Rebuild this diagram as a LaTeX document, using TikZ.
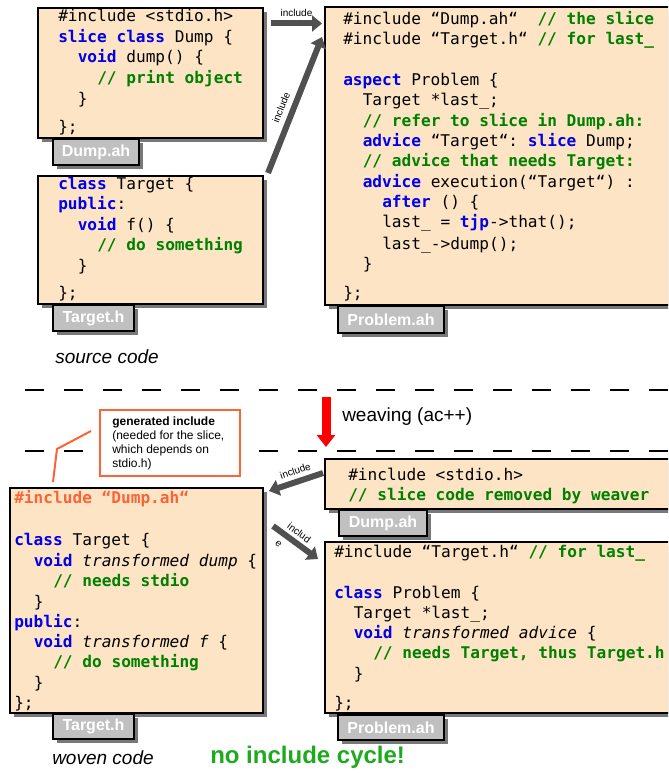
\documentclass[tikz,border=0pt]{standalone}
\usepackage{fontspec}
\setmainfont{Liberation Sans}
\setmonofont{DejaVu Sans Mono}
\usetikzlibrary{arrows.meta, fit, shadows}
\definecolor{boxfill}{RGB}{253,228,196}
\definecolor{tabgray}{RGB}{192,192,192}
\definecolor{shadowgray}{RGB}{120,120,120}
\definecolor{arrowgray}{RGB}{80,80,80}
\definecolor{kwblue}{RGB}{0,0,235}
\definecolor{cmtgreen}{RGB}{0,128,0}
\definecolor{genorange}{RGB}{250,100,55}
\definecolor{okgreen}{RGB}{30,170,30}
\newcommand{\kwd}[1]{\textcolor{kwblue}{\bfseries #1}}
\newcommand{\cmt}[1]{\textcolor{cmtgreen}{\bfseries #1}}
\newcommand{\gen}[1]{\textcolor{genorange}{\bfseries #1}}
\tikzset{
  filebox/.style={draw=black, line width=1.5pt, fill=boxfill, inner sep=0pt,
    drop shadow={shadow xshift=3pt, shadow yshift=-3pt, fill=shadowgray, opacity=1}},
  filetab/.style={draw=black, line width=1.5pt, fill=tabgray, inner sep=0pt, text=white,
    anchor=north west, font=\bfseries\fontsize{12}{14}\selectfont,
    drop shadow={shadow xshift=3pt, shadow yshift=-3pt, fill=shadowgray, opacity=1}},
  code/.style={anchor=base west, inner sep=0pt, font=\ttfamily\fontsize{12.1}{14}\selectfont},
  incl/.style={draw=arrowgray, line width=4.5pt, -{Triangle[length=7.5pt,width=12pt]}},
  incllabel/.style={font=\fontsize{7.5}{10}\selectfont, text=black, inner sep=1pt},
  caption/.style={anchor=west, inner sep=0pt, font=\itshape\fontsize{14.25}{16}\selectfont},
  separator/.style={line width=1pt, dash pattern=on 14.25pt off 15pt},
  weave/.style={draw=red, line width=6.75pt, -{Triangle[length=9pt,width=13.5pt]}},
}
\begin{document}
\begin{tikzpicture}[x=0.75pt, y=-0.75pt]
\useasboundingbox (0,0) rectangle (668,773);
\clip (0,0) rectangle (668,773);

% source code
\node[filebox, fit={(38,8) (263,138)}] (srcdump) {};
\node[filetab, minimum width=64.5pt, minimum height=19.5pt] (srcdumptab) at (52,138) {Dump.ah};
\foreach \ind/\yy/\txt [count=\k] in {
  0/22/{\#include <stdio.h>},
  0/43/{\kwd{slice class} Dump \{},
  2/63/{\kwd{void} dump() \{},
  4/84/{\cmt{// print object}},
  2/105/{\}},
  0/133/{\};}}
  \node[code] (srcdump\k) at ({58+\ind*9.75},\yy) {\txt};

\node[filebox, fit={(38,176) (263,304)}] (srctarget) {};
\node[filetab, minimum width=60.75pt, minimum height=19.5pt] (srctargettab) at (52,304) {Target.h};
\foreach \ind/\yy/\txt [count=\k] in {
  0/190/{\kwd{class} Target \{},
  0/210/{\kwd{public}:},
  2/231/{\kwd{void} f() \{},
  4/251/{\cmt{// do something}},
  2/272/{\}},
  0/298/{\};}}
  \node[code] (srctarget\k) at ({58+\ind*9.75},\yy) {\txt};

\node[filebox, fit={(325,7) (690,305)}] (srcproblem) {};
\node[filetab, minimum width=79.5pt, minimum height=20.25pt] (srcproblemtab) at (337,305) {Problem.ah};
\foreach \ind/\yy/\txt [count=\k] in {
  0/25/{\#include “Dump.ah“~ \cmt{// the slice}},
  0/45/{\#include “Target.h“ \cmt{// for last\_}},
  0/86/{\kwd{aspect} Problem \{},
  2/106/{Target *last\_;},
  2/127/{\cmt{// refer to slice in Dump.ah:}},
  2/147/{\kwd{advice} “Target“: \kwd{slice} Dump;},
  2/167/{\cmt{// advice that needs Target:}},
  2/188/{\kwd{advice} execution(“Target“) :},
  4/208/{\kwd{after} () \{},
  4/228/{last\_ = \kwd{tjp}->that();},
  4/249/{last\_->dump();},
  2/270/{\}},
  0/298/{\};}}
  \node[code] (srcproblem\k) at ({343+\ind*9.75},\yy) {\txt};

\draw[incl] ([shift={(7,16.5)}]srcdump.north east) -- ([shift={(-2,17.5)}]srcproblem.north west)
  node[incllabel, midway, above=2pt] (inclA) {include};
\draw[incl] ([shift={(4,-2)}]srctarget.north east) -- ([shift={(-2,31)}]srcproblem.north west)
  node[incllabel, pos=0.45, sloped, above=3pt] (inclB) {include};

\node[caption] (srccaption) at (55,357) {source code};

% weaving
\draw[separator] (25,390) -- (668,390);
\draw[separator] (25,451) -- (668,451);
\coordinate (weavetop) at (326,397);
\coordinate (weavetip) at (326,447);
\draw[weave] (weavetop) -- (weavetip);
\node[anchor=west, inner sep=0pt, font=\fontsize{14.25}{16}\selectfont] (weavelabel) at (342,417) {weaving (ac++)};

\node[draw=genorange, line width=1.5pt, fill=white, inner sep=0pt, fit={(100,410) (240,476)}] (genbox) {};
\node[anchor=north west, inner sep=0pt, align=left, font=\fontsize{9}{10.3}\selectfont] (gentext) at (112,417)
  {\textbf{generated include}\\(needed for the slice,\\which depends on\\stdio.h)};
\coordinate (genend) at (91,431);
\coordinate (genbend) at (57,449);
\coordinate (gentip) at (53,482);
\draw[genorange, line width=1.5pt] (genend) -- (genbend) -- (gentip);

% woven code
\node[filebox, fit={(10,488) (263,713)}] (wovtarget) {};
\node[filetab, minimum width=60.75pt, minimum height=18.75pt] (wovtargettab) at (52,713) {Target.h};
\foreach \ind/\yy/\txt [count=\k] in {
  0/503/{\gen{\#include “Dump.ah“}},
  0/545/{\kwd{class} Target \{},
  2/566/{\kwd{void} \textit{transformed dump} \{},
  4/586/{\cmt{// needs stdio}},
  2/607/{\}},
  0/627/{\kwd{public}:},
  2/647/{\kwd{void} \textit{transformed f} \{},
  4/667/{\cmt{// do something}},
  2/688/{\}},
  0/708/{\};}}
  \node[code] (wovtarget\k) at ({14+\ind*9.75},\yy) {\txt};

\node[filebox, fit={(325,459) (690,509)}] (wovdump) {};
\node[filetab, minimum width=66pt, minimum height=19.5pt] (wovdumptab) at (338,509) {Dump.ah};
\foreach \ind/\yy/\txt [count=\k] in {
  0/480/{\#include <stdio.h>},
  0/500/{\cmt{// slice code removed by weaver}}}
  \node[code] (wovdump\k) at ({348+\ind*9.75},\yy) {\txt};

\node[filebox, fit={(325,542) (690,713)}] (wovproblem) {};
\node[filetab, minimum width=79.5pt, minimum height=18.75pt] (wovproblemtab) at (337,714) {Problem.ah};
\foreach \ind/\yy/\txt [count=\k] in {
  0/557/{\#include “Target.h“ \cmt{// for last\_}},
  0/598/{\kwd{class} Problem \{},
  2/618/{Target *last\_;},
  2/638/{\kwd{void} \textit{transformed advice} \{},
  4/658/{\cmt{// needs Target, thus Target.h}},
  2/679/{\}},
  0/708/{\};}}
  \node[code] (wovproblem\k) at ({334+\ind*9.75},\yy) {\txt};

\draw[incl] ([shift={(-1,15)}]wovdump.north west) -- ([shift={(5,4)}]wovtarget.north east)
  node[incllabel, pos=0.45, sloped, above=2pt] (inclC) {include};
\draw[incl] ([shift={(9,39)}]wovtarget.north east) -- ([shift={(-6,18)}]wovproblem.north west)
  node[incllabel, pos=0.45, sloped, align=left, font=\fontsize{7.5}{15}\selectfont] (inclD) {includ\\e};

\node[caption] (wovcaption) at (52,758) {woven code};
\node[anchor=west, inner sep=0pt, text=okgreen, font=\bfseries\fontsize{18}{20}\selectfont] (nocycle) at (210,757) {no include cycle!};
\end{tikzpicture}
\end{document}
